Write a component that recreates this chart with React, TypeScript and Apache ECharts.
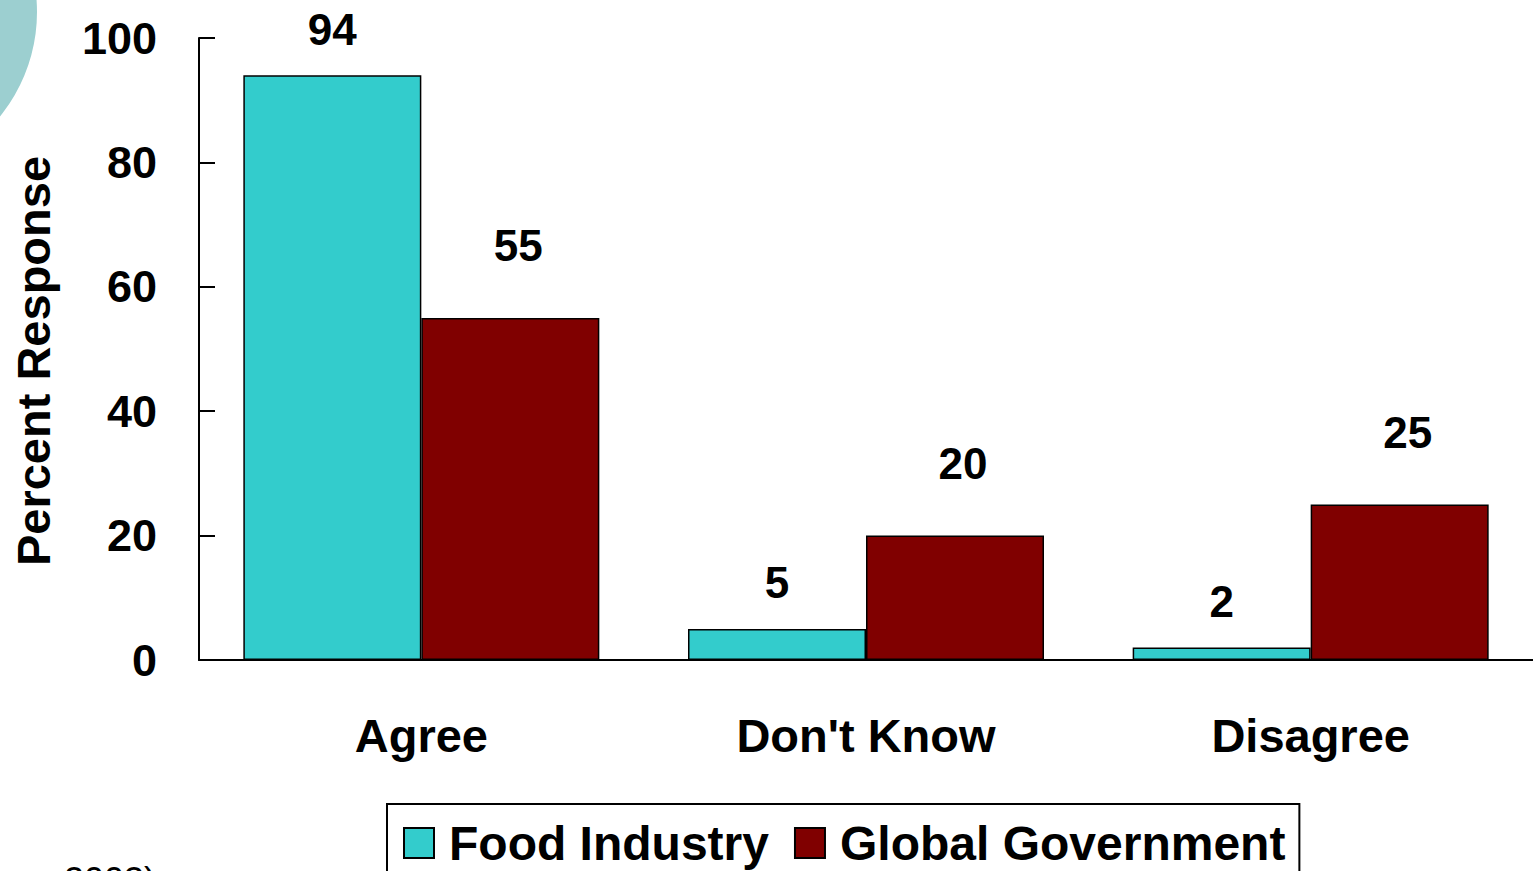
import React, { useEffect, useRef } from "react";
import * as echarts from "echarts";

const categories = ["Agree", "Don't Know", "Disagree"];
const foodIndustry = [94, 5, 2];
const globalGovernment = [55, 20, 25];
const seriesNames = ["Food Industry", "Global Government"];
const yTicks = { min: 0, max: 100, interval: 20 };
const yAxisTitle = "Percent Response";
const footnote = "2003)";

const FONT = "'Liberation Sans', Arial, Helvetica, sans-serif";

export default function App() {
  const ref = useRef<HTMLDivElement>(null);

  useEffect(() => {
    if (!ref.current) return;
    const chart = echarts.init(ref.current, undefined, { renderer: "svg" });
    const labelBase = {
      show: true,
      position: "top" as const,
      color: "#000",
      fontFamily: FONT,
      fontWeight: "bold" as const,
      fontSize: 44,
      lineHeight: 44,
    };
    chart.setOption({
      animation: false,
      backgroundColor: "#fff",
      textStyle: { fontFamily: FONT },
      grid: { left: 199, top: 38, width: 1335, bottom: 211, containLabel: false },
      xAxis: {
        type: "category",
        data: categories,
        axisLine: { lineStyle: { color: "#000", width: 2 } },
        axisTick: { show: false },
        axisLabel: {
          color: "#000",
          fontFamily: FONT,
          fontWeight: "bold",
          fontSize: 47,
          lineHeight: 47,
          margin: 52,
        },
      },
      yAxis: {
        type: "value",
        min: yTicks.min,
        max: yTicks.max,
        interval: yTicks.interval,
        axisLine: { show: true, lineStyle: { color: "#000", width: 2 } },
        axisTick: { show: true, inside: true, length: 16, lineStyle: { color: "#000", width: 2 } },
        splitLine: { show: false },
        axisLabel: {
          color: "#000",
          fontFamily: FONT,
          fontWeight: "bold",
          fontSize: 45,
          margin: 42,
        },
      },
      legend: {
        left: 387,
        top: 804,
        padding: [15, 14, 40, 16],
        borderColor: "#000",
        borderWidth: 2,
        itemWidth: 30,
        itemHeight: 30,
        itemGap: 25,
        icon: "rect",
        textStyle: {
          color: "#000",
          fontFamily: FONT,
          fontWeight: "bold",
          fontSize: 48,
          lineHeight: 48,
          padding: [0, 0, 0, 10],
        },
        data: seriesNames,
      },
      graphic: [
        {
          type: "circle",
          shape: { cx: -129, cy: 12, r: 166 },
          style: { fill: "#9ccfd0" },
          z: -10,
        },
        {
          type: "text",
          x: 33,
          y: 361,
          rotation: Math.PI / 2,
          style: {
            text: yAxisTitle,
            fill: "#000",
            font: `bold 47px ${FONT}`,
            align: "center",
            verticalAlign: "middle",
          },
        },
        {
          type: "text",
          x: 64,
          y: 862,
          style: {
            text: footnote,
            fill: "#000",
            font: `36px ${FONT}`,
            align: "left",
            verticalAlign: "top",
          },
        },
      ],
      series: [
        {
          name: seriesNames[0],
          type: "bar",
          data: foodIndustry,
          barWidth: 178,
          barGap: "0%",
          itemStyle: { color: "#33cccc", borderColor: "#000", borderWidth: 1.5 },
          label: { ...labelBase, distance: 24 },
        },
        {
          name: seriesNames[1],
          type: "bar",
          data: globalGovernment,
          barWidth: 178,
          barGap: "0%",
          itemStyle: { color: "#800000", borderColor: "#000", borderWidth: 1.5 },
          label: { ...labelBase, distance: 50, offset: [8, 0] },
        },
      ],
    });
    return () => chart.dispose();
  }, []);

  return (
    <div
      ref={ref}
      style={{ position: "fixed", left: 0, top: 0, width: 1533, height: 871, background: "#fff" }}
    />
  );
}
